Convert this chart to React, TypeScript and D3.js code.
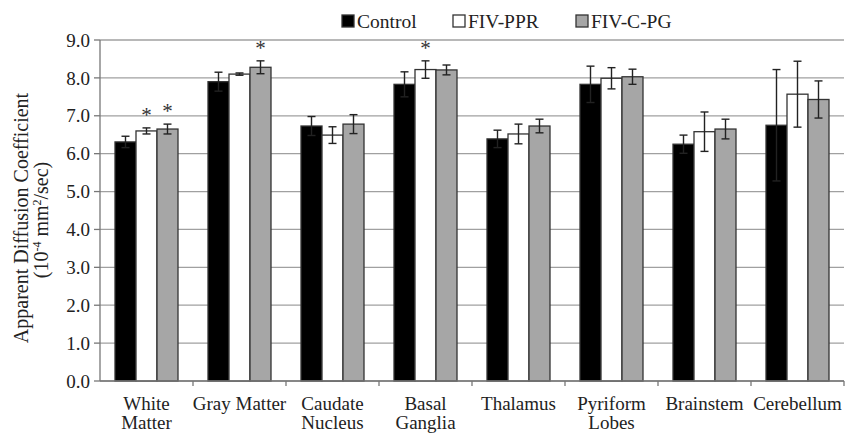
import React from 'react';
import * as d3 from 'd3';

const regions = [['White', 'Matter'], ['Gray Matter'], ['Caudate', 'Nucleus'], ['Basal', 'Ganglia'], ['Thalamus'], ['Pyriform', 'Lobes'], ['Brainstem'], ['Cerebellum']];
const seriesNames = ['Control', 'FIV-PPR', 'FIV-C-PG'];
const control = [6.31, 7.9, 6.73, 7.83, 6.39, 7.83, 6.25, 6.75];
const controlErr = [0.15, 0.25, 0.25, 0.33, 0.23, 0.48, 0.24, 1.47];
const ppr = [6.6, 8.1, 6.49, 8.22, 6.52, 7.99, 6.58, 7.57];
const pprErr = [0.08, 0.03, 0.22, 0.23, 0.26, 0.28, 0.52, 0.87];
const cpg = [6.65, 8.28, 6.78, 8.21, 6.73, 8.03, 6.65, 7.43];
const cpgErr = [0.13, 0.17, 0.25, 0.13, 0.18, 0.2, 0.26, 0.49];
// asterisks: [region index, series index]
const stars = [[0, 1], [0, 2], [1, 2], [3, 1]];
const yTicks = [0, 1, 2, 3, 4, 5, 6, 7, 8, 9];

const W = 849, H = 434;
const margin = { top: 40, right: 5, bottom: 53, left: 100 };
const fills = ['#000000', '#ffffff', '#a6a6a6'];
const font = '"Liberation Serif", "Times New Roman", serif';
const fs = 19;

export default function App() {
  const values = [control, ppr, cpg];
  const errs = [controlErr, pprErr, cpgErr];
  const x = d3.scaleBand<number>().domain(d3.range(regions.length)).range([margin.left, W - margin.right]);
  const y = d3.scaleLinear().domain([0, 9]).range([H - margin.bottom, margin.top]);
  const barW = 21;
  const bx = (i: number, s: number) => (x(i) as number) + x.bandwidth() / 2 - 1.5 * barW + s * barW;
  const right = W - margin.right;

  return (
    <svg width={W} height={H} style={{ position: 'absolute', left: 0, top: 0, background: '#fff' }} fontFamily={font}>
      {/* gridlines */}
      {yTicks.map(t => (
        <line key={'g' + t} x1={margin.left} x2={right} y1={y(t)} y2={y(t)} stroke="#a0a0a0" strokeWidth={1.3} />
      ))}
      {/* y axis */}
      <line x1={margin.left} x2={margin.left} y1={y(9)} y2={y(0)} stroke="#777" strokeWidth={1.3} />
      {yTicks.map(t => (
        <g key={'t' + t}>
          <line x1={margin.left - 6} x2={margin.left} y1={y(t)} y2={y(t)} stroke="#777" strokeWidth={1.3} />
          <text x={margin.left - 10} y={y(t)} dy="0.35em" textAnchor="end" fontSize={fs} fill="#222">{t.toFixed(1)}</text>
        </g>
      ))}
      {/* bars */}
      {values.map((vals, s) => vals.map((v, i) => (
        <rect key={`b${s}-${i}`} x={bx(i, s)} y={y(v)} width={barW} height={y(0) - y(v)} fill={fills[s]} stroke="#333" strokeWidth={1.3} />
      )))}
      {/* error bars */}
      {values.map((vals, s) => vals.map((v, i) => {
        const cx = bx(i, s) + barW / 2;
        const e = errs[s][i];
        return (
          <g key={`e${s}-${i}`} stroke="#222" strokeWidth={1.4}>
            <line x1={cx} x2={cx} y1={y(v + e)} y2={y(v - e)} />
            <line x1={cx - 4} x2={cx + 4} y1={y(v + e)} y2={y(v + e)} />
            <line x1={cx - 4} x2={cx + 4} y1={y(v - e)} y2={y(v - e)} />
          </g>
        );
      }))}
      {stars.map(([i, s]) => (
        <text key={`s${i}-${s}`} x={bx(i, s) + barW / 2} y={y(values[s][i] + errs[s][i]) - 6} textAnchor="middle" fontSize={21} fill="#333" stroke="none">*</text>
      ))}
      {/* x axis */}
      <line x1={margin.left} x2={right} y1={y(0)} y2={y(0)} stroke="#777" strokeWidth={1.3} />
      {regions.map((_, i) => (
        <line key={'xt' + i} x1={(x(i) as number) + x.bandwidth()} x2={(x(i) as number) + x.bandwidth()} y1={y(0)} y2={y(0) + 5} stroke="#777" strokeWidth={1.3} />
      ))}
      {regions.map((lines, i) => (
        <text key={'xl' + i} textAnchor="middle" fontSize={fs} fill="#222">
          {lines.map((l, k) => (
            <tspan key={k} x={(x(i) as number) + x.bandwidth() / 2} y={410 + k * 19}>{l}</tspan>
          ))}
        </text>
      ))}
      {/* y label */}
      <text transform="translate(28,218) rotate(-90)" textAnchor="middle" fontSize={20} fill="#222">Apparent Diffusion Coefficient</text>
      <text transform="translate(48,220) rotate(-90)" textAnchor="middle" fontSize={20} fill="#222">
        (10<tspan dy={-7} fontSize={12}>-4</tspan><tspan dy={7}> mm</tspan><tspan dy={-7} fontSize={12}>2</tspan><tspan dy={7}>/sec)</tspan>
      </text>
      {/* legend */}
      {seriesNames.map((n, s) => {
        const lx = [342, 453, 576][s];
        return (
          <g key={'l' + n}>
            <rect x={lx} y={15} width={12} height={12} fill={fills[s]} stroke="#333" strokeWidth={1.3} />
            <text x={lx + 15} y={28} fontSize={19.5} fill="#222">{n}</text>
          </g>
        );
      })}
    </svg>
  );
}
